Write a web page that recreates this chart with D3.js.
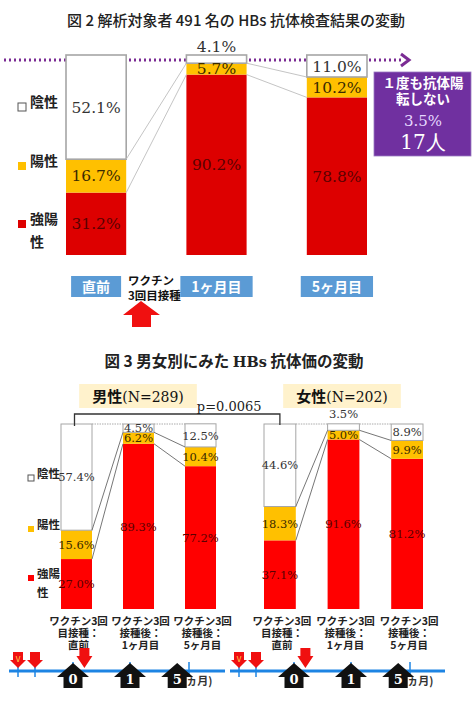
<!DOCTYPE html>
<html>
<head>
<meta charset="utf-8">
<script src="https://cdn.jsdelivr.net/npm/d3@7"></script>
<style>
  body { margin: 0; background: #fff; }
  svg { display: block; }
</style>
</head>
<body>
<div id="chart"></div>
<script>
// ---- data ----
const STAGES = ["直前", "1ヶ月目", "5ヶ月目"];
const KEYS = ["strong", "pos", "neg"];
const LEGEND = ["陰性", "陽性", "強陽性"];

const ALL_STRONG = [31.2, 90.2, 78.8];
const ALL_POS = [16.7, 5.7, 10.2];
const ALL_NEG = [52.1, 4.1, 11.0];

const MEN_STRONG = [27.0, 89.3, 77.2];
const MEN_POS = [15.6, 6.2, 10.4];
const MEN_NEG = [57.4, 4.5, 12.5];

const WOMEN_STRONG = [37.1, 91.6, 81.2];
const WOMEN_POS = [18.3, 5.0, 9.9];
const WOMEN_NEG = [44.6, 3.5, 8.9];

const STAGE_LABELS = [
  ["ワクチン3回", "目接種：", "直前"],
  ["ワクチン3回", "接種後：", "1ヶ月目"],
  ["ワクチン3回", "接種後：", "5ヶ月目"]
];
const NEVER_LINES = ["１度も抗体陽", "転しない"];
const NEVER_PCT = "3.5%";
const NEVER_N = "17人";
const P_VALUE = "p=0.0065";
const MEN_LABEL = ["男性", "(N=289)"];
const WOMEN_LABEL = ["女性", "(N=202)"];

// timeline (months, schematic)
const TIME_TICKS = [-6, -5, 0, 1, 6];
const DOSE_MONTHS = [-6, -5, 0.2];
const CHECK_MONTHS = [0, 1, 5];
const CHECK_LABELS = ["0", "1", "5"];

// ---- style ----
const JP = "'Noto Sans CJK JP', 'Noto Sans', sans-serif";
const SERIF = "'DejaVu Serif', serif";
const YELLOW = "#ffc000";
const PURPLE = "#7030a0";
const BLUE_BOX = "#5b9bd5";
const TEXT_COL = { neg: "#333", pos: "#3a2a00", strong: "#5a0000" };

const svg = d3.select("#chart").append("svg")
  .attr("width", 476)
  .attr("height", 725)
  .style("font-family", JP);

function buildRows(strong, pos, neg) {
  return STAGES.map((s, i) => ({ stage: s, strong: strong[i], pos: pos[i], neg: neg[i] }));
}

function drawStacks(g, rows, x, y, opt) {
  const series = d3.stack().keys(KEYS)(rows);
  const bw = x.bandwidth();
  const fill = { strong: opt.red, pos: YELLOW, neg: "#fff" };

  // dotted frame along the top between bars
  if (opt.topDots) {
    for (let i = 0; i < STAGES.length - 1; i++) {
      g.append("line")
        .attr("x1", x(STAGES[i]) + bw).attr("x2", x(STAGES[i + 1]))
        .attr("y1", y(100)).attr("y2", y(100))
        .attr("stroke", "#aaa").attr("stroke-width", 1)
        .attr("stroke-dasharray", "1.5,1");
    }
  }

  series.forEach(s => {
    g.selectAll(null).data(s).join("rect")
      .attr("x", d => x(d.data.stage))
      .attr("y", d => y(d[1]))
      .attr("width", bw)
      .attr("height", d => y(d[0]) - y(d[1]))
      .attr("fill", fill[s.key])
      .attr("stroke", s.key === "neg" ? "#a6a6a6" : "none")
      .attr("stroke-width", opt.frameWidth);
  });

  // connectors between the positive boundaries
  for (let i = 0; i < rows.length - 1; i++) {
    const a = rows[i], b = rows[i + 1];
    [[a.strong, b.strong], [a.strong + a.pos, b.strong + b.pos]].forEach(([v0, v1]) => {
      g.append("line")
        .attr("x1", x(a.stage) + bw).attr("y1", y(v0))
        .attr("x2", x(b.stage)).attr("y2", y(v1))
        .attr("stroke", opt.connector).attr("stroke-width", 0.9);
    });
  }

  // value labels
  series.forEach(s => {
    g.selectAll(null).data(s).join("text")
      .attr("x", d => x(d.data.stage) + bw / 2)
      .attr("y", d => {
        const h = y(d[0]) - y(d[1]);
        return h < opt.minH ? y(100) - opt.above : (y(d[0]) + y(d[1])) / 2;
      })
      .attr("dy", d => (y(d[0]) - y(d[1]) < opt.minH ? 0 : "0.36em"))
      .attr("text-anchor", "middle")
      .attr("font-family", SERIF)
      .attr("font-size", opt.fontSize)
      .attr("fill", TEXT_COL[s.key])
      .text(d => d3.format(".1f")(d.data[s.key]) + "%");
  });
}

function drawLegend(g, items, opt) {
  const col = ["#fff", YELLOW, opt.red];
  items.forEach((it, i) => {
    g.append("rect")
      .attr("x", opt.x).attr("y", it.y - opt.sq / 2)
      .attr("width", opt.sq).attr("height", opt.sq)
      .attr("fill", col[i])
      .attr("stroke", i === 0 ? "#555" : "none").attr("stroke-width", 1);
    const t = g.append("text")
      .attr("x", opt.x + opt.gap).attr("y", it.y)
      .attr("dy", "0.36em")
      .attr("font-size", opt.fs).attr("font-weight", 700)
      .attr("fill", "#222");
    it.lines.forEach((line, j) => {
      t.append("tspan").attr("x", opt.x + opt.gap).attr("dy", j === 0 ? 0 : opt.lh).text(line);
    });
  });
}

// ================= Figure 2 =================
svg.append("text")
  .attr("x", 236).attr("y", 26)
  .attr("text-anchor", "middle")
  .attr("font-size", 15).attr("font-weight", 500)
  .attr("fill", "#222")
  .text("図 2 解析対象者 491 名の HBs 抗体検査結果の変動");

const x2 = d3.scaleBand().domain(STAGES).range([66, 367]).paddingInner(0.5);
const y2 = d3.scaleLinear().domain([0, 100]).range([255, 55]);
const g2 = svg.append("g");

// purple dotted arrow behind the bars
g2.append("line")
  .attr("x1", 4).attr("x2", 404).attr("y1", 60).attr("y2", 60)
  .attr("stroke", "#7b2c94").attr("stroke-width", 3)
  .attr("stroke-dasharray", "2,3");
g2.append("polyline")
  .attr("points", "401,54 409,60 401,66")
  .attr("fill", "none").attr("stroke", "#7b2c94").attr("stroke-width", 3);

drawStacks(g2, buildRows(ALL_STRONG, ALL_POS, ALL_NEG), x2, y2, {
  red: "#dd0000", frameWidth: 1.6, connector: "#bdbdbd",
  minH: 10, above: 3, fontSize: 15.5, topDots: false
});

drawLegend(g2, [
  { y: 107, lines: [LEGEND[0]] },
  { y: 166, lines: [LEGEND[1]] },
  { y: 224, lines: [LEGEND[2].slice(0, 2), LEGEND[2].slice(2)] }
], { x: 18, sq: 8, gap: 12, fs: 14, lh: 23, red: "#dd0000" });

// purple box
const pb = g2.append("g");
pb.append("rect").attr("x", 374).attr("y", 72).attr("width", 97).attr("height", 84)
  .attr("fill", PURPLE).attr("stroke", "#9a7bc0").attr("stroke-width", 0.8);
const pbt = pb.append("text").attr("text-anchor", "middle").attr("font-size", 13.5)
  .attr("font-weight", 700).attr("fill", "#fff");
NEVER_LINES.forEach((t, i) => {
  pbt.append("tspan").attr("x", 423).attr("y", 88 + i * 16).text(t);
});
pb.append("text").attr("x", 423).attr("y", 126).attr("text-anchor", "middle")
  .attr("font-family", SERIF).attr("font-size", 15).attr("fill", "#e6d8ff").text(NEVER_PCT);
pb.append("text").attr("x", 423).attr("y", 149).attr("text-anchor", "middle")
  .attr("font-family", SERIF).attr("font-size", 20).attr("fill", "#fff").text(NEVER_N);

// blue stage boxes
STAGES.forEach(s => {
  const cx = x2(s) + x2.bandwidth() / 2;
  const bg = g2.append("g");
  const rect = bg.append("rect").attr("y", 276).attr("height", 21).attr("fill", BLUE_BOX);
  const t = bg.append("text").attr("x", cx).attr("y", 287).attr("dy", "0.36em")
    .attr("text-anchor", "middle").attr("font-size", 14).attr("font-weight", 700)
    .attr("fill", "#fff").text(s);
  const w = t.node().getComputedTextLength() + 22;
  rect.attr("x", cx - w / 2).attr("width", w);
});

const vt = g2.append("text").attr("font-size", 11.5).attr("font-weight", 700).attr("fill", "#111");
vt.append("tspan").attr("x", 128).attr("y", 285).text("ワクチン");
vt.append("tspan").attr("x", 128).attr("y", 300).text("3回目接種");
g2.append("polygon")
  .attr("points", "141,301 160,315 151,315 151,327 132,327 132,315 123,315")
  .attr("fill", "#f01010");

// ================= Figure 3 =================
const t3 = svg.append("text")
  .attr("x", 234).attr("y", 367)
  .attr("text-anchor", "middle")
  .attr("font-size", 15.5).attr("font-weight", 700)
  .attr("fill", "#222");
t3.append("tspan").text("図 3  男女別にみた ");
t3.append("tspan").attr("font-family", SERIF).attr("font-size", 14.5).text("HBs");
t3.append("tspan").text(" 抗体価の変動");

const y3 = d3.scaleLinear().domain([0, 100]).range([609, 424]);
const xm = d3.scaleBand().domain(STAGES).range([61, 216]).paddingInner(0.5);
const xw = d3.scaleBand().domain(STAGES).range([264, 423]).paddingInner(0.5);

function drawPanelLabel(cx, parts) {
  const g = svg.append("g");
  const rect = g.append("rect").attr("y", 384).attr("height", 24).attr("fill", "#fff2cc");
  const t = g.append("text").attr("x", cx).attr("y", 396).attr("dy", "0.36em")
    .attr("text-anchor", "middle").attr("fill", "#111");
  t.append("tspan").attr("font-size", 15).attr("font-weight", 700).text(parts[0]);
  t.append("tspan").attr("font-family", SERIF).attr("font-size", 14).text(parts[1]);
  const w = t.node().getComputedTextLength() + 26;
  rect.attr("x", cx - w / 2).attr("width", w);
}
drawPanelLabel(138, MEN_LABEL);
drawPanelLabel(342, WOMEN_LABEL);

const panelOpt = {
  red: "#ff0000", frameWidth: 1, connector: "#666",
  minH: 7.5, above: 6, fontSize: 11.5, topDots: true
};
const gm = svg.append("g");
drawStacks(gm, buildRows(MEN_STRONG, MEN_POS, MEN_NEG), xm, y3, panelOpt);
const gw = svg.append("g");
drawStacks(gw, buildRows(WOMEN_STRONG, WOMEN_POS, WOMEN_NEG), xw, y3, panelOpt);

// p-value bracket between the two "直前" bars
const bx1 = xm(STAGES[0]) + xm.bandwidth() / 2 - 2;
const bx2 = xw(STAGES[0]) + xw.bandwidth() / 2;
svg.append("path")
  .attr("d", `M${bx1},${y3(100) + 2}V414H${bx2}V${y3(100) + 1}`)
  .attr("fill", "none").attr("stroke", "#333").attr("stroke-width", 1.3);
svg.append("text").attr("x", (bx1 + bx2) / 2 + 52).attr("y", 411)
  .attr("text-anchor", "middle").attr("font-family", SERIF).attr("font-size", 13)
  .attr("fill", "#222").text(P_VALUE);

drawLegend(svg.append("g"), [
  { y: 478, lines: [LEGEND[0]] },
  { y: 529, lines: [LEGEND[1]] },
  { y: 578, lines: [LEGEND[2].slice(0, 2), LEGEND[2].slice(2)] }
], { x: 28, sq: 6, gap: 9, fs: 11.5, lh: 19, red: "#ff0000" });

// stage labels under the bars
[xm, xw].forEach(x => {
  STAGES.forEach((s, i) => {
    const cx = x(s) + x.bandwidth() / 2 + 2;
    const t = svg.append("text")
      .attr("text-anchor", "middle")
      .attr("font-size", 10.5).attr("font-weight", 700)
      .attr("fill", "#222");
    STAGE_LABELS[i].forEach((line, j) => {
      t.append("tspan").attr("x", cx).attr("y", 625 + j * 12).text(line);
    });
  });
});

// timelines
function drawTimeline(offset, lineFrom, lineTo) {
  const t = d3.scaleLinear()
    .domain(TIME_TICKS)
    .range([18, 35, 73, 130, 189].map(v => v + offset));
  const g = svg.append("g");
  const ly = 671;
  g.append("line").attr("x1", lineFrom).attr("x2", lineTo)
    .attr("y1", ly).attr("y2", ly)
    .attr("stroke", "#1d84e3").attr("stroke-width", 3);
  g.selectAll(null).data(TIME_TICKS).join("line")
    .attr("x1", d => t(d)).attr("x2", d => t(d))
    .attr("y1", ly - 9).attr("y2", ly + 6)
    .attr("stroke", "#1d84e3").attr("stroke-width", 1.5);

  g.append("text").attr("x", t(CHECK_MONTHS[2]) + 5).attr("y", 685)
    .attr("font-size", 11).attr("font-weight", 700).attr("fill", "#333").text("(ヵ月)");

  g.selectAll(null).data(DOSE_MONTHS).join("path")
    .attr("d", (d, i) => {
      const cx = t(d), top = i === 2 ? 648 : 652;
      return `M${cx - 5},${top}H${cx + 5}V${top + 8}H${cx + 8}L${cx},668L${cx - 8},${top + 8}H${cx - 5}Z`;
    })
    .attr("fill", "#f01010");
  g.append("text").attr("x", t(DOSE_MONTHS[0])).attr("y", 662)
    .attr("text-anchor", "middle").attr("font-size", 8).attr("fill", "#ffd84a").text("V");

  g.selectAll(null).data(CHECK_MONTHS).join("path")
    .attr("d", d => {
      const cx = t(d);
      return `M${cx},663L${cx + 16},677H${cx + 9.5}V688H${cx - 9.5}V677H${cx - 16}Z`;
    })
    .attr("fill", "#111");
  g.selectAll(null).data(CHECK_MONTHS).join("text")
    .attr("x", d => t(d)).attr("y", 684)
    .attr("text-anchor", "middle").attr("font-family", SERIF)
    .attr("font-size", 13).attr("font-weight", 700).attr("fill", "#fff")
    .text((d, i) => CHECK_LABELS[i]);
}
drawTimeline(0, 9, 225);
drawTimeline(221, 230, 445);
</script>
</body>
</html>
